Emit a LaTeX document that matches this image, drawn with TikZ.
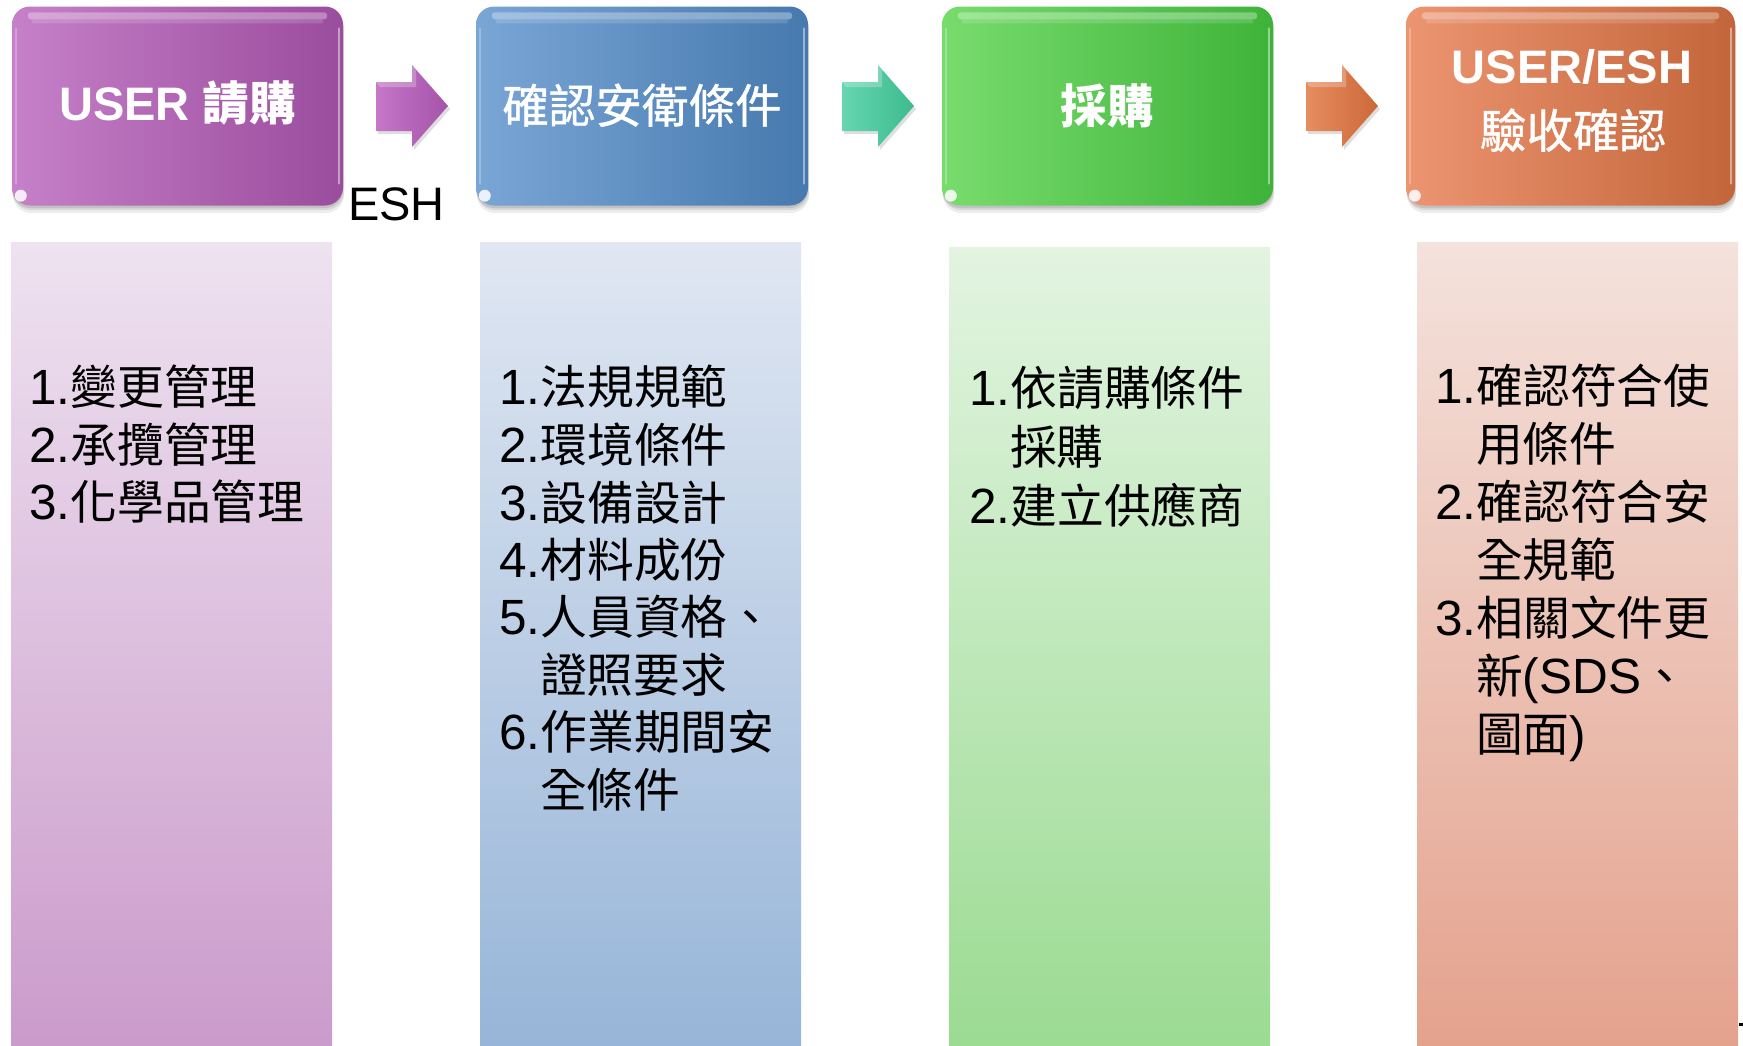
\documentclass[tikz,border=0pt]{standalone}
\usepackage{fontspec}
\setmainfont{Liberation Sans}
\newfontfamily\cjk[Scale=0.945]{Noto Sans CJK TC}
\newfontfamily\cjkh[Scale=0.99]{Noto Sans CJK TC}
\newfontfamily\cjkm[Scale=0.99,FakeBold=0.9]{Noto Sans CJK TC}
\newcommand\zh[1]{{\cjk #1}}
\newcommand\zhh[1]{{\cjkh #1}}
\newcommand\zhm[1]{{\cjkm #1}}
\usetikzlibrary{calc}
\definecolor{boxApurL}{HTML}{C680C9}
\definecolor{boxApurR}{HTML}{9A4C9D}
\definecolor{boxBbluL}{HTML}{7AA6D6}
\definecolor{boxBbluR}{HTML}{4679AE}
\definecolor{boxCgrnL}{HTML}{78DC6D}
\definecolor{boxCgrnR}{HTML}{3EB339}
\definecolor{boxDoraL}{HTML}{EC9571}
\definecolor{boxDoraR}{HTML}{C3653A}
\definecolor{panApurT}{HTML}{EEE2F0}
\definecolor{panApurB}{HTML}{CB9BCB}
\definecolor{panBbluT}{HTML}{E0E7F2}
\definecolor{panBbluB}{HTML}{97B5D8}
\definecolor{panCgrnT}{HTML}{E3F4E1}
\definecolor{panCgrnB}{HTML}{9BDB92}
\definecolor{panDoraT}{HTML}{F4E2DC}
\definecolor{panDoraB}{HTML}{E4A28D}
\definecolor{arrApurL}{HTML}{C577C8}
\definecolor{arrApurR}{HTML}{A553AA}
\definecolor{arrBgrnL}{HTML}{66D6B0}
\definecolor{arrBgrnR}{HTML}{3DBB8F}
\definecolor{arrCoraL}{HTML}{E68D60}
\definecolor{arrCoraR}{HTML}{CC6838}
\tikzset{
  hdrbox/.style={rounded corners=18pt, minimum height=199pt, inner sep=0pt, draw=none, shading angle=0},
  panelbox/.style={anchor=north west, inner sep=0pt, draw=none, minimum width=321pt},
  txt/.style={anchor=base west, inner sep=0pt, font=\fontsize{49.5}{58}\selectfont},
  hdrtxt/.style={anchor=base, inner sep=0pt, text=white, font=\fontsize{47}{56}\selectfont},
}
% name, centre x, width, left colour, right colour
\newcommand\headbox[5]{%
  \fill[black,opacity=0.07,rounded corners=18pt] (#2-#3/2+1,13) rectangle (#2+#3/2+1,213);
  \fill[black,opacity=0.09,rounded corners=18pt] (#2-#3/2+1,10) rectangle (#2+#3/2+1,210);
  \fill[black,opacity=0.10,rounded corners=18pt] (#2-#3/2,8) rectangle (#2+#3/2,208);
  \node[hdrbox, minimum width=#3pt, left color=#4, right color=#5] (#1) at (#2,106) {};
  \fill[white,opacity=0.32,rounded corners=3pt] ($(#1.north west)+(16,6)$) rectangle ($(#1.north east)+(-16,13)$);
  \fill[white,opacity=0.15,rounded corners=2pt] ($(#1.north west)+(20,13)$) rectangle ($(#1.north east)+(-20,17)$);
  \draw[white,opacity=0.45,line width=2pt,line cap=round] ($(#1.north east)+(-4,22)$) -- ($(#1.south east)+(-4,-22)$);
  \draw[white,opacity=0.25,line width=2pt,line cap=round] ($(#1.north west)+(4,22)$) -- ($(#1.south west)+(4,-22)$);
  \fill[white,opacity=0.85] ($(#1.south west)+(9,-10)$) circle (6pt);
}
% name, tail x, left colour, right colour
\newcommand\blockarrow[4]{%
  \fill[black,opacity=0.13] (#2+2,85) -- (#2+38,85) -- (#2+38,68) -- (#2+74,109) -- (#2+38,150) -- (#2+38,134) -- (#2+2,134) -- cycle;
  \shade[left color=#3,right color=#4] (#2,82) -- (#2+36,82) -- (#2+36,65) -- (#2+72,106) -- (#2+36,147) -- (#2+36,131) -- (#2,131) -- cycle;
  \fill[white,opacity=0.25] (#2,82) -- (#2+36,82) -- (#2+36,65) -- (#2+40,70) -- (#2+40,87) -- (#2+4,87) -- cycle;
  \coordinate (#1) at (#2+36,106);
}
\begin{document}
\begin{tikzpicture}[x=1pt,y=-1pt]
\useasboundingbox (0,0) rectangle (1743,1045);
% lower panels
\node[panelbox, minimum height=804pt, top color=panApurT, bottom color=panApurB] (p1) at (11,242) {};
\node[panelbox, minimum height=804pt, top color=panBbluT, bottom color=panBbluB] (p2) at (480,242) {};
\node[panelbox, minimum height=799pt, top color=panCgrnT, bottom color=panCgrnB] (p3) at (949,247) {};
\node[panelbox, minimum height=804pt, top color=panDoraT, bottom color=panDoraB] (p4) at (1417,242) {};
% header boxes
\headbox{b1}{177.5}{331}{boxApurL}{boxApurR}
\headbox{b2}{642}{332}{boxBbluL}{boxBbluR}
\headbox{b3}{1107.5}{331}{boxCgrnL}{boxCgrnR}
\headbox{b4}{1570.5}{329}{boxDoraL}{boxDoraR}
% block arrows
\blockarrow{a1}{376}{arrApurL}{arrApurR}
\blockarrow{a2}{842}{arrBgrnL}{arrBgrnR}
\blockarrow{a3}{1306}{arrCoraL}{arrCoraR}
% header texts
\node[hdrtxt] (t1) at (177.5,120) {\bfseries USER \zhh{請購}};
\node[hdrtxt] (t2) at (642,123) {\zhm{確認安衛條件}};
\node[hdrtxt] (t3) at (1107.5,123) {\bfseries\zhh{採購}};
\node[hdrtxt] (t4a) at (1572,83) {\bfseries USER/ESH};
\node[hdrtxt] (t4b) at (1573,148) {\zhm{驗收確認}};
\node[anchor=base west, inner sep=0pt, font=\fontsize{47}{56}\selectfont] (esh) at (348,220) {ESH};
% panel 1
\node[txt] (p1l1) at (29,404) {1.\zh{變更管理}};
\node[txt] (p1l2) at (29,462) {2.\zh{承攬管理}};
\node[txt] (p1l3) at (29,519) {3.\zh{化學品管理}};
% panel 2
\node[txt] (p2l1) at (499,404) {1.\zh{法規規範}};
\node[txt] (p2l2) at (499,462) {2.\zh{環境條件}};
\node[txt] (p2l3) at (499,520) {3.\zh{設備設計}};
\node[txt] (p2l4) at (499,577) {4.\zh{材料成份}};
\node[txt] (p2l5) at (499,634) {5.\zh{人員資格、}};
\node[txt] (p2l6) at (540,692) {\zh{證照要求}};
\node[txt] (p2l7) at (499,749) {6.\zh{作業期間安}};
\node[txt] (p2l8) at (540,807) {\zh{全條件}};
% panel 3
\node[txt] (p3l1) at (969,405) {1.\zh{依請購條件}};
\node[txt] (p3l2) at (1010,464) {\zh{採購}};
\node[txt] (p3l3) at (969,523) {2.\zh{建立供應商}};
% panel 4
\node[txt] (p4l1) at (1435,403) {1.\zh{確認符合使}};
\node[txt] (p4l2) at (1476,461) {\zh{用條件}};
\node[txt] (p4l3) at (1435,519) {2.\zh{確認符合安}};
\node[txt] (p4l4) at (1476,577) {\zh{全規範}};
\node[txt] (p4l5) at (1435,635) {3.\zh{相關文件更}};
\node[txt] (p4l6) at (1476,693) {\zh{新}(SDS\zh{、}};
\node[txt] (p4l7) at (1476,751) {\zh{圖面})};
% tiny mark at the right edge
\fill[black] (1739,1023) rectangle (1743,1026);
\end{tikzpicture}
\end{document}
